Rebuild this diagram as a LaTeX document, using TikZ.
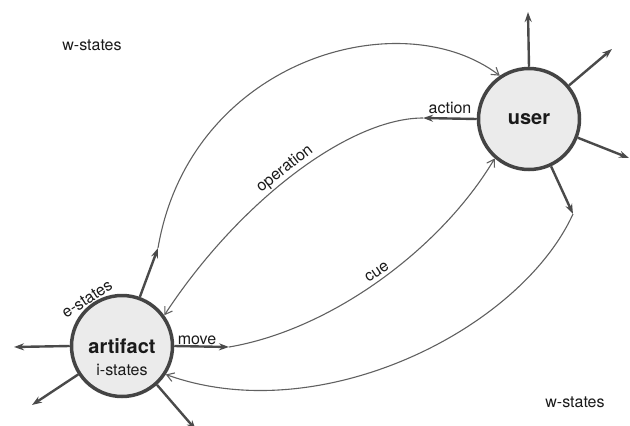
\documentclass[tikz,border=0pt]{standalone}
\usepackage{fontspec}
\setmainfont{TeX Gyre Heros}
\usetikzlibrary{arrows.meta}
\definecolor{ringc}{HTML}{444444}
\definecolor{fillc}{HTML}{EBEBEB}
\definecolor{spokec}{HTML}{4A4A4A}
\definecolor{curvec}{HTML}{606060}
\definecolor{txtc}{HTML}{1A1A1A}
\tikzset{
  statecircle/.style={circle, draw=ringc, fill=fillc, line width=3.5pt, minimum size=101pt, inner sep=0pt, text=txtc, font=\fontsize{20}{22}\selectfont\bfseries},
  spoke/.style={draw=spokec, line width=2.4pt, -{Stealth[length=10pt,width=7pt]}},
  flow/.style={draw=curvec, line width=1.1pt, -{Straight Barb[length=7pt,width=9pt]}},
  lbl/.style={text=txtc, font=\fontsize{16}{18}\selectfont, inner sep=0pt},
}
\begin{document}
\begin{tikzpicture}[x=1pt,y=-1pt]
\useasboundingbox (0,0) rectangle (630,426);

% nodes
\node[statecircle] (art) at (122,346) {artifact};
\node[statecircle] (usr) at (529,119) {user};
\node[lbl] (istates) at (122,370) {i-states};

% free ends of spokes
\coordinate (aup) at (158,248);
\coordinate (aleft) at (14,347);
\coordinate (all) at (32,405);
\coordinate (alr) at (196,430);
\coordinate (amove) at (229,347);
\coordinate (utop) at (528,12);
\coordinate (uur) at (612,49);
\coordinate (ulr) at (629,158);
\coordinate (ulow) at (573,214);
\coordinate (uact) at (423,118);

% artifact spokes
\draw[spoke] (art.70) -- (aup);
\draw[spoke] (art.180) -- (aleft);
\draw[spoke] (art.213) -- (all);
\draw[spoke] (art.-48) -- (alr);
\draw[spoke] (art.0) -- (amove);

% user spokes
\draw[spoke] (usr.90) -- (utop);
\draw[spoke] (usr.40) -- (uur);
\draw[spoke] (usr.-21) -- (ulr);
\draw[spoke] (usr.-65) -- (ulow);
\draw[spoke] (usr.180) -- (uact);

% flows
\draw[flow] (aup) .. controls (190,60) and (400,0) .. (usr.124);
\draw[flow] (uact) .. controls (350,118) and (240,200) .. (art.36);
\draw[flow] (amove) .. controls (330,330) and (440,250) .. (usr.229);
\draw[flow] (ulow) .. controls (520,330) and (320,430) .. (art.-33);

% labels
\node[lbl] (wtl) at (92,45) {w-states};
\node[lbl] (wbr) at (575,402) {w-states};
\node[lbl, rotate=33] (estates) at (87,299) {e-states};
\node[lbl] (action) at (450,108) {action};
\node[lbl] (move) at (197,340) {move};
\node[lbl, rotate=38] (operation) at (285,169) {operation};
\node[lbl, rotate=34] (cue) at (377,272) {cue};
\end{tikzpicture}
\end{document}
